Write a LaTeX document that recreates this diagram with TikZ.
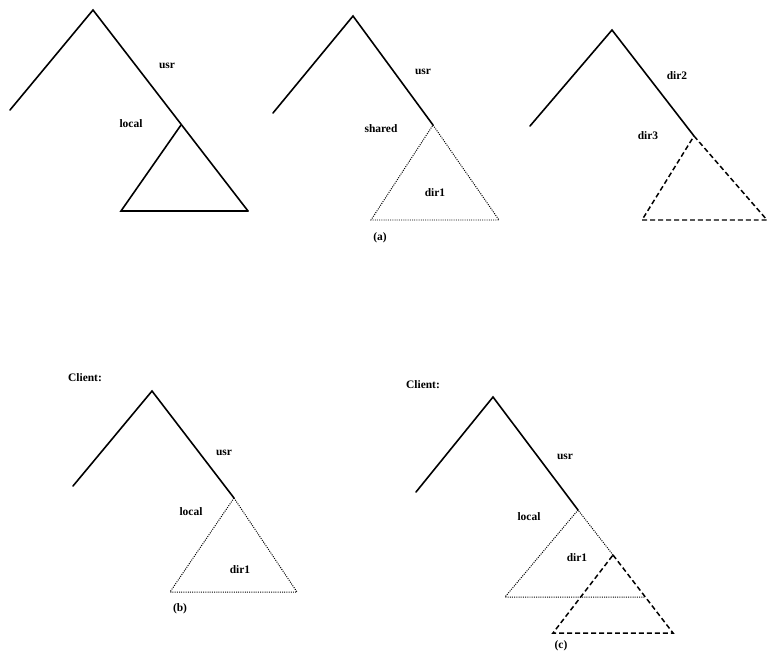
\documentclass[tikz,border=0pt]{standalone}
\usepackage{fontspec}
\setmainfont{Liberation Serif}
\usetikzlibrary{positioning}

\begin{document}
\begin{tikzpicture}[x=1bp,y=-1bp,
    solidedge/.style={line width=1.6pt, line cap=round, line join=miter},
    dotedge/.style={line width=1pt, dash pattern=on 1pt off 1.2pt},
    dashedge/.style={line width=1.5pt, dash pattern=on 5pt off 3pt},
    lbl/.style={font=\bfseries\fontsize{11.5}{12}\selectfont, inner sep=0pt}]
    \useasboundingbox (0,0) rectangle (769,658);

    % (a) left tree, local subtree
    \coordinate (ltop) at (93,10);
    \coordinate (lleft) at (10,110);
    \coordinate (lmid) at (181,125);
    \coordinate (lright) at (248,211);
    \coordinate (lbl) at (121,211);
    \draw[solidedge] (lleft) -- (ltop) -- (lright);
    \draw[solidedge] (lmid) -- (lbl) -- (lright);
    \node[lbl] (lusr) at (167,66) {usr};
    \node[lbl] (llocal) at (131,124) {local};

    % (a) middle tree, shared subtree
    \coordinate (mtop) at (353,16);
    \coordinate (mleft) at (273,113);
    \coordinate (mmid) at (433,125);
    \coordinate (mright) at (499,220);
    \coordinate (mbl) at (371,220);
    \draw[solidedge] (mleft) -- (mtop) -- (mmid);
    \draw[dotedge] (mmid) -- (mright) -- (mbl) -- cycle;
    \node[lbl] (musr) at (423,72) {usr};
    \node[lbl] (mshared) at (381,129) {shared};
    \node[lbl] (mdir) at (435,193) {dir1};
    \node[lbl] (acap) at (380,238) {(a)};

    % (a) right tree, dir3 subtree
    \coordinate (rtop) at (612,30);
    \coordinate (rleft) at (530,126);
    \coordinate (rmid) at (694,136);
    \coordinate (rright) at (767,220);
    \coordinate (rbl) at (642,220);
    \draw[solidedge] (rleft) -- (rtop) -- (rmid);
    \draw[dashedge] (rmid) -- (rright) -- (rbl) -- cycle;
    \node[lbl] (rdirtwo) at (677,76) {dir2};
    \node[lbl] (rdirthree) at (648,136) {dir3};

    % (b) client
    \coordinate (btop) at (152,391);
    \coordinate (bleft) at (73,486);
    \coordinate (bmid) at (234,498);
    \coordinate (bright) at (297,592);
    \coordinate (bbl) at (170,592);
    \draw[solidedge] (bleft) -- (btop) -- (bmid);
    \draw[dotedge] (bmid) -- (bright) -- (bbl) -- cycle;
    \node[lbl] (bclient) at (85,378) {Client:};
    \node[lbl] (busr) at (224,453) {usr};
    \node[lbl] (blocal) at (191,512) {local};
    \node[lbl] (bdir) at (240,570) {dir1};
    \node[lbl] (bcap) at (180,609) {(b)};

    % (c) client, dir1 with dir3 below
    \coordinate (ctop) at (493,397);
    \coordinate (cleft) at (416,492);
    \coordinate (cmid) at (578,510);
    \coordinate (cright) at (645,597);
    \coordinate (cbl) at (505,597);
    \coordinate (csub) at (613,555);
    \coordinate (csubright) at (673,633);
    \coordinate (csubbl) at (553,633);
    \draw[solidedge] (cleft) -- (ctop) -- (cmid);
    \draw[dotedge] (csub) -- (cmid) -- (cbl) -- (cright);
    \draw[dashedge] (csub) -- (csubright) -- (csubbl) -- cycle;
    \node[lbl] (cclient) at (423,385) {Client:};
    \node[lbl] (cusr) at (565,457) {usr};
    \node[lbl] (clocal) at (529,517) {local};
    \node[lbl] (cdir) at (577,558) {dir1};
    \node[lbl] (ccap) at (561,646) {(c)};
\end{tikzpicture}
\end{document}
